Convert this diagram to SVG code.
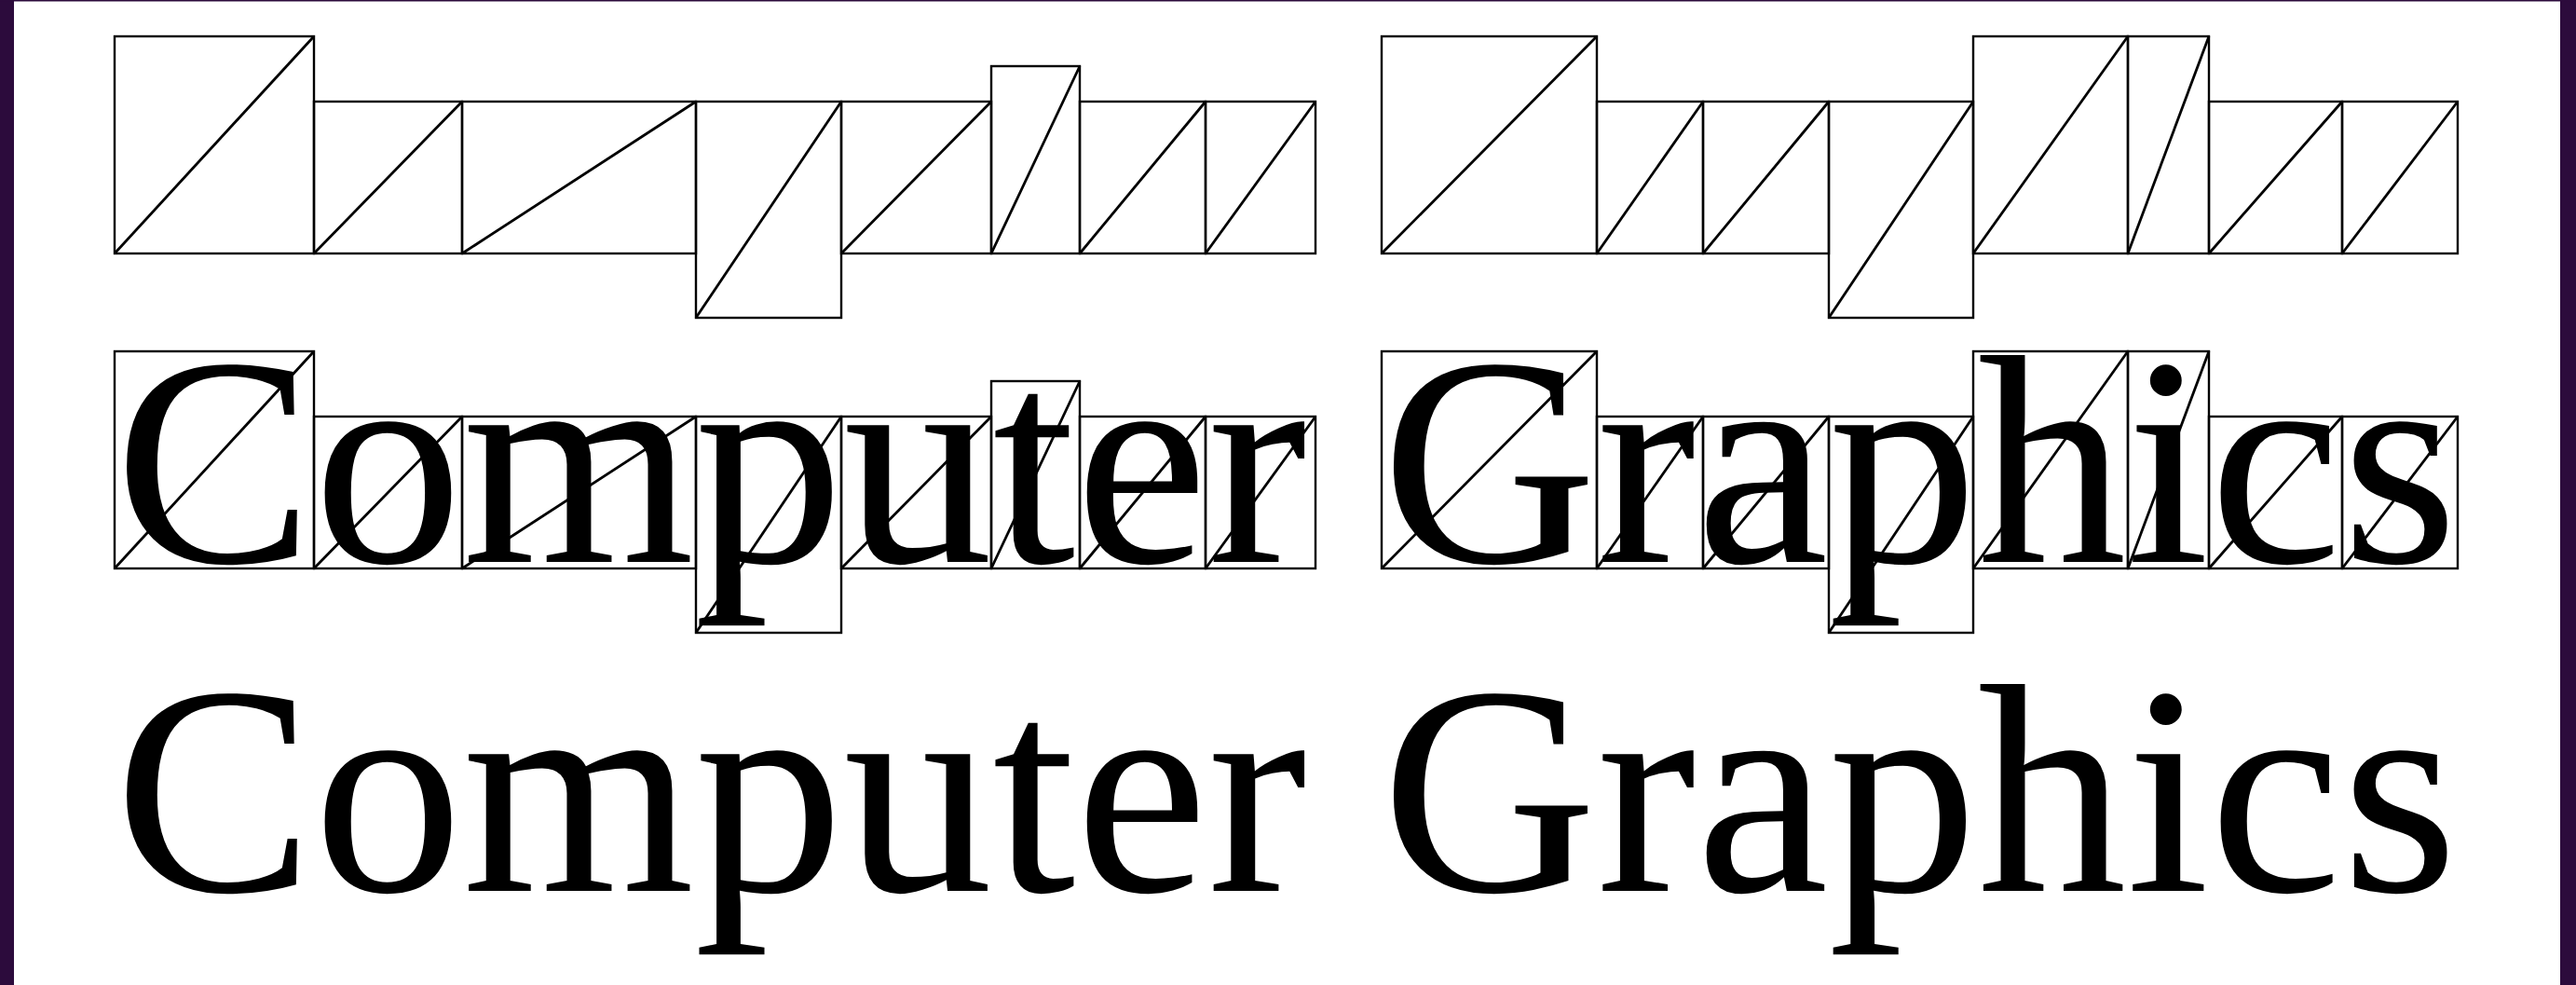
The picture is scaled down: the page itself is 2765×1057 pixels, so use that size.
<svg xmlns="http://www.w3.org/2000/svg" width="2765" height="1057" viewBox="0 0 2765 1057">
  <style>
    .box { fill: none; stroke: #000; stroke-width: 2.4; }
    .diag { fill: none; stroke: #000; stroke-width: 2.8; }
    .txt { font-family: "Liberation Serif", "Times New Roman", serif; font-size: 320px; fill: #000; }
  </style>
  <defs>
    <g id="boxes">
      <g id="b-C"><rect class="box" x="123" y="39" width="214" height="233"/><path class="diag" d="M123,272 L337,39"/></g>
      <g id="b-o"><rect class="box" x="337" y="109" width="159" height="163"/><path class="diag" d="M337,272 L496,109"/></g>
      <g id="b-m"><rect class="box" x="496" y="109" width="251" height="163"/><path class="diag" d="M496,272 L747,109"/></g>
      <g id="b-p1"><rect class="box" x="747" y="109" width="156" height="232"/><path class="diag" d="M747,341 L903,109"/></g>
      <g id="b-u"><rect class="box" x="903" y="109" width="161" height="163"/><path class="diag" d="M903,272 L1064,109"/></g>
      <g id="b-t"><rect class="box" x="1064" y="71" width="95" height="201"/><path class="diag" d="M1064,272 L1159,71"/></g>
      <g id="b-e"><rect class="box" x="1159" y="109" width="135" height="163"/><path class="diag" d="M1159,272 L1294,109"/></g>
      <g id="b-r1"><rect class="box" x="1294" y="109" width="118" height="163"/><path class="diag" d="M1294,272 L1412,109"/></g>
      <g id="b-G"><rect class="box" x="1483" y="39" width="231" height="233"/><path class="diag" d="M1483,272 L1714,39"/></g>
      <g id="b-r2"><rect class="box" x="1714" y="109" width="114" height="163"/><path class="diag" d="M1714,272 L1828,109"/></g>
      <g id="b-a"><rect class="box" x="1828" y="109" width="135" height="163"/><path class="diag" d="M1828,272 L1963,109"/></g>
      <g id="b-p2"><rect class="box" x="1963" y="109" width="155" height="232"/><path class="diag" d="M1963,341 L2118,109"/></g>
      <g id="b-h"><rect class="box" x="2118" y="39" width="166" height="233"/><path class="diag" d="M2118,272 L2284,39"/></g>
      <g id="b-i"><rect class="box" x="2284" y="39" width="87" height="233"/><path class="diag" d="M2284,272 L2371,39"/></g>
      <g id="b-c"><rect class="box" x="2371" y="109" width="143" height="163"/><path class="diag" d="M2371,272 L2514,109"/></g>
      <g id="b-s"><rect class="box" x="2514" y="109" width="124" height="163"/><path class="diag" d="M2514,272 L2638,109"/></g>
    </g>
  </defs>
  <rect x="0" y="0" width="2765" height="1057" fill="#ffffff"/>
  <g id="frame" fill="#2c0b3c">
    <rect x="0" y="0" width="15" height="1057"/>
    <rect x="2748" y="0" width="17" height="1057"/>
    <rect x="0" y="0" width="2765" height="1.5"/>
  </g>
  <g id="row1-boxes">
    <use href="#boxes"/>
  </g>
  <g id="row2">
    <text id="row2-text" class="txt" x="123" y="603">Computer Graphics</text>
    <g id="row2-boxes" transform="translate(0,338)">
      <use href="#boxes"/>
    </g>
  </g>
  <g id="row3">
    <text id="row3-text" class="txt" x="123" y="956">Computer Graphics</text>
  </g>
  <g id="connectors"/>
</svg>
